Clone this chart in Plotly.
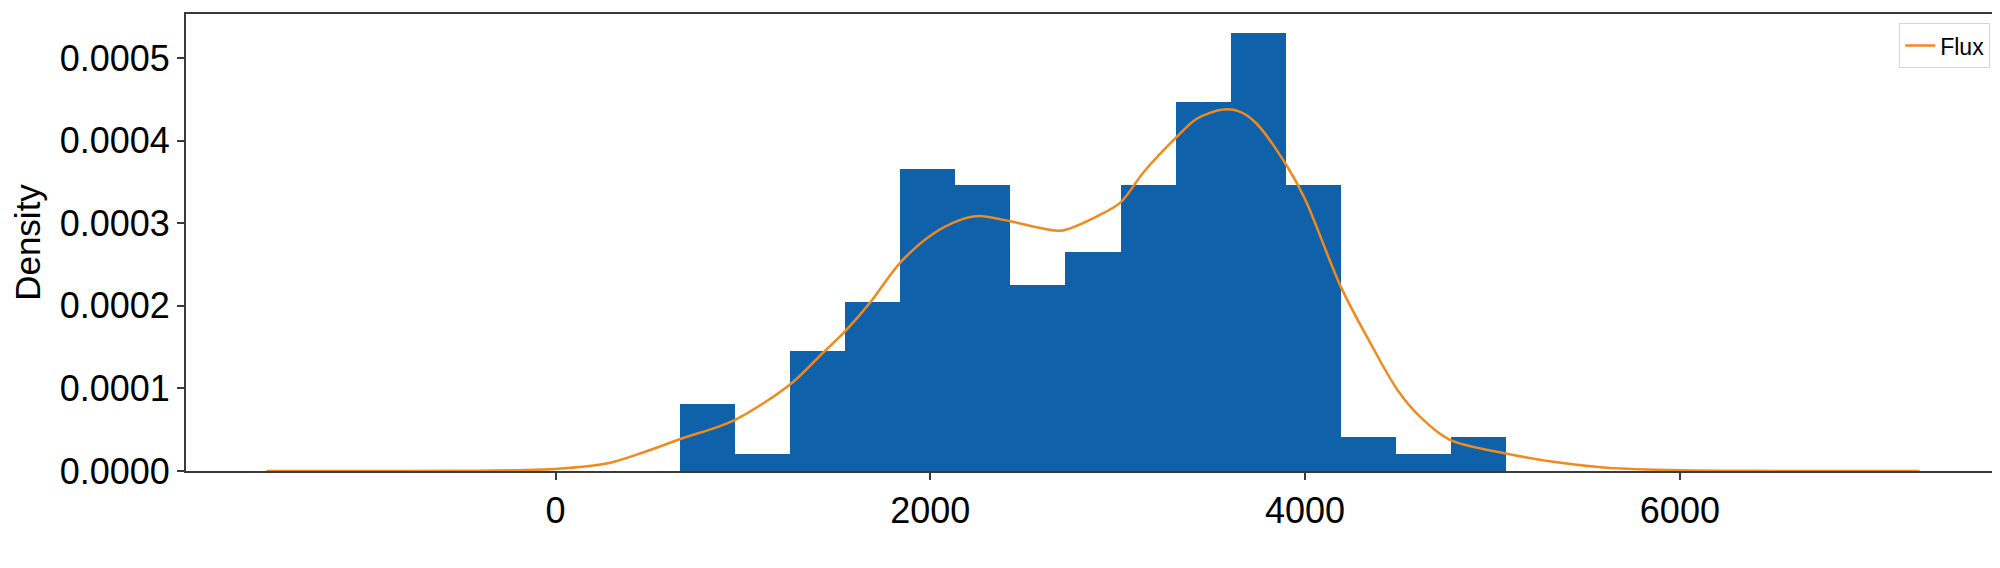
import plotly.graph_objects as go

# histogram bins (density)
bin_edges = [662, 956, 1251, 1545, 1839, 2133, 2427, 2721, 3015, 3309,
             3603, 3897, 4191, 4485, 4779, 5073]
bin_density = [0.0000809, 0.0000209, 0.0001448, 0.0002043, 0.0003657,
               0.0003463, 0.0002253, 0.0002655, 0.0003463, 0.0004469,
               0.0005302, 0.0003463, 0.0000406, 0.0000209, 0.0000406]

# KDE curve ("Flux") read point by point
kde_x = [-1543, -1000, -500, -200, 0, 279, 474, 662, 953, 1251, 1412, 1546,
         1680, 1769, 1842, 2000, 2150, 2256, 2427, 2560, 2697, 2892, 3015,
         3139, 3307, 3422, 3563, 3651, 3739, 3904, 4000, 4191, 4353, 4492,
         4613, 4770, 5071, 5343, 5609, 6000, 6500, 7000, 7279]
kde_y = [0.0, 0.0, 0.0000002, 0.0000010, 0.0000024, 0.0000093, 0.0000230,
         0.0000385, 0.0000614, 0.0001048, 0.0001398, 0.0001693, 0.0002043,
         0.0002319, 0.000253, 0.000285, 0.0003032, 0.0003087, 0.0003024,
         0.0002955, 0.0002910, 0.0003087, 0.0003253, 0.0003621, 0.0004027,
         0.0004266, 0.0004377, 0.0004351, 0.0004211, 0.000369, 0.000329,
         0.000223, 0.000153, 0.0000985, 0.0000658, 0.0000380, 0.0000213,
         0.0000105, 0.0000040, 0.0000008, 0.0000001, 0.0, 0.0]

x_ticks = [0, 2000, 4000, 6000]
y_ticks = [0, 0.0001, 0.0002, 0.0003, 0.0004, 0.0005]

centers = [(a + b) / 2 for a, b in zip(bin_edges[:-1], bin_edges[1:])]
widths = [b - a for a, b in zip(bin_edges[:-1], bin_edges[1:])]

fig = go.Figure()
fig.add_trace(go.Bar(
    x=centers, y=bin_density, width=widths,
    marker=dict(color="#0f62aa", line=dict(width=0)),
    showlegend=False, hoverinfo="skip"
))
fig.add_trace(go.Scatter(
    x=kde_x, y=kde_y, mode="lines", name="Flux",
    line=dict(color="#f0891e", width=2.5, shape="spline", smoothing=0.9)
))

font_family = "Liberation Sans, Arial"
axis_common = dict(
    showline=True, linecolor="#3a3a3a", linewidth=2, mirror=True,
    showgrid=False, zeroline=False,
    ticks="outside", ticklen=7, tickwidth=1.5, tickcolor="#3a3a3a",
    tickfont=dict(family=font_family, size=36, color="black"),
)

fig.update_layout(
    width=2000, height=568,
    margin=dict(l=178, r=4, t=4, b=105),
    paper_bgcolor="white", plot_bgcolor="white",
    bargap=0,
    xaxis=dict(range=[-1972, 7719], tickvals=x_ticks, **axis_common),
    yaxis=dict(range=[0, 0.0005534], tickvals=y_ticks, tickformat=".4f",
               title=dict(text="Density", standoff=10,
                          font=dict(family=font_family, size=35, color="black")),
               **axis_common),
    legend=dict(x=0.9935, y=0.98, xanchor="right", yanchor="top",
                bgcolor="white", bordercolor="#d4d4d4", borderwidth=1,
                font=dict(family=font_family, size=23, color="black")),
)

fig.write_html("out.html")
